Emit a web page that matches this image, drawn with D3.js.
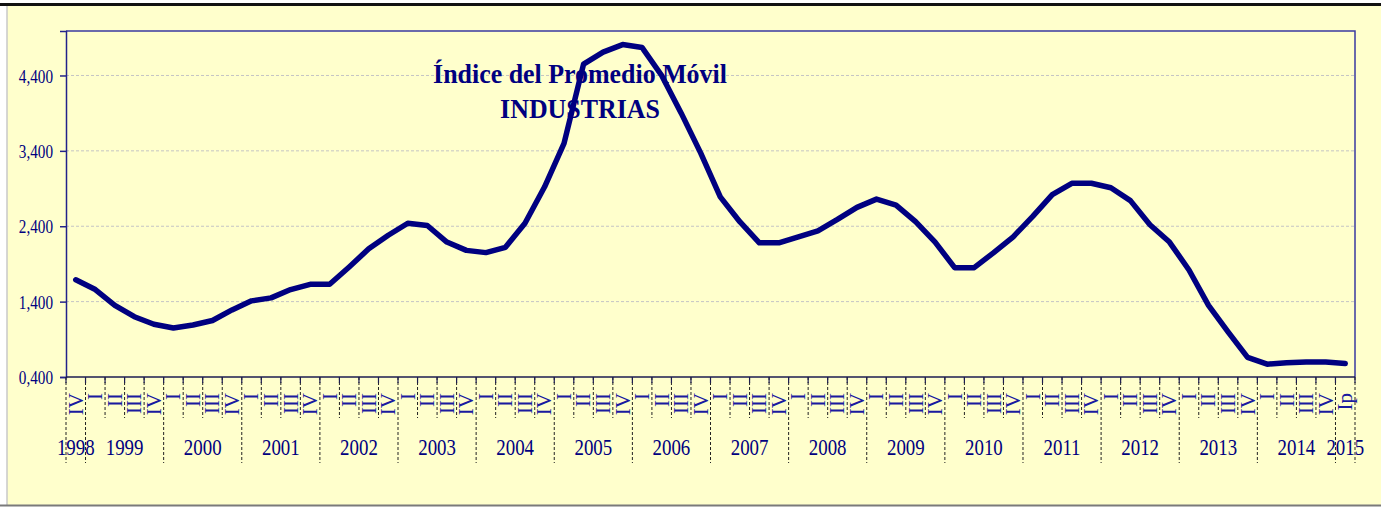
<!DOCTYPE html>
<html>
<head>
<meta charset="utf-8">
<script src="https://cdn.jsdelivr.net/npm/d3@7"></script>
<style>
  html, body { margin: 0; padding: 0; background: #ffffff; }
  svg { display: block; }
</style>
</head>
<body>
<div id="chart"></div>
<script>
(function() {
  'use strict'

  // Quarter labels, 1998 IV .. 2015 Ip.
  var quarterLabels = ['IV',
    'I','II','III','IV', 'I','II','III','IV', 'I','II','III','IV', 'I','II','III','IV',
    'I','II','III','IV', 'I','II','III','IV', 'I','II','III','IV', 'I','II','III','IV',
    'I','II','III','IV', 'I','II','III','IV', 'I','II','III','IV', 'I','II','III','IV',
    'I','II','III','IV', 'I','II','III','IV', 'I','II','III','IV', 'I','II','III','IV',
    'Ip'];

  var yearLabels = ['1998','1999','2000','2001','2002','2003','2004','2005','2006',
                    '2007','2008','2009','2010','2011','2012','2013','2014','2015'];
  var yearQuarters = [1,4,4,4,4,4,4,4,4,4,4,4,4,4,4,4,4,1];

  // Moving average index, INDUSTRIAS.
  var indexValues = [1.69,
    1.56,1.35,1.20,1.10, 1.05,1.09,1.15,1.29, 1.41,1.45,1.56,1.63, 1.63,1.86,2.10,2.28,
    2.44,2.41,2.19,2.08, 2.05,2.12,2.44,2.92, 3.50,4.55,4.71,4.81, 4.77,4.40,3.90,3.37,
    2.79,2.46,2.18,2.18, 2.26,2.34,2.49,2.65, 2.76,2.68,2.46,2.19, 1.85,1.85,2.05,2.26,
    2.53,2.82,2.97,2.97, 2.91,2.74,2.42,2.19, 1.82,1.35,1.00,0.66, 0.57,0.59,0.60,0.60,
    0.58];

  var yTicks = [0.4, 1.4, 2.4, 3.4, 4.4];
  var titleLines = ['Índice del Promedio Móvil', 'INDUSTRIAS'];

  var width = 1381, height = 508;
  var plot = { left: 66, right: 1355, top: 31, bottom: 377 };
  var navy = '#000080';
  var serif = '"Liberation Serif", "Times New Roman", serif';

  var svg = d3.select('#chart').append('svg')
    .attr('width', width).attr('height', height);

  // Frame of the picture.
  svg.append('rect').attr('x', 7).attr('y', 5).attr('width', width - 7).attr('height', 500)
    .attr('fill', '#ffffcc');
  svg.append('rect').attr('x', 0).attr('y', 3).attr('width', width).attr('height', 3)
    .attr('fill', '#111');
  svg.append('line').attr('x1', 7).attr('x2', 7).attr('y1', 6).attr('y2', 505)
    .attr('stroke', '#c8c8c8').attr('stroke-width', 1.5);
  svg.append('line').attr('x1', 0).attr('x2', width).attr('y1', 505.5).attr('y2', 505.5)
    .attr('stroke', '#7a7a7a').attr('stroke-width', 2);

  var x = d3.scaleBand()
    .domain(d3.range(quarterLabels.length))
    .range([plot.left, plot.right])
    .paddingInner(0).paddingOuter(0);

  var y = d3.scaleLinear()
    .domain([0.4, 4.99])
    .range([plot.bottom, plot.top]);

  // Gridlines.
  svg.append('g').selectAll('line')
    .data(yTicks.slice(1)).enter().append('line')
    .attr('x1', plot.left).attr('x2', plot.right)
    .attr('y1', function(d) { return y(d); })
    .attr('y2', function(d) { return y(d); })
    .attr('stroke', '#c4c4c4').attr('stroke-width', 1)
    .attr('stroke-dasharray', '3,2');

  // Plot border (top and right).
  svg.append('path')
    .attr('d', 'M' + plot.left + ',' + plot.top + 'H' + plot.right + 'V' + plot.bottom)
    .attr('fill', 'none').attr('stroke', '#3a3aa0').attr('stroke-width', 1.5);

  // Y axis.
  var yAxis = svg.append('g')
    .attr('transform', 'translate(' + plot.left + ',0)')
    .call(d3.axisLeft(y).tickValues(yTicks).tickSize(6).tickPadding(0)
      .tickFormat(function(d) { return d3.format('.3f')(d).replace('.', ','); }));
  yAxis.select('.domain').attr('stroke', '#22228a').attr('stroke-width', 1.5);
  yAxis.selectAll('.tick line').attr('stroke', '#22228a').attr('stroke-width', 1.5);
  yAxis.selectAll('.tick text').remove();
  yAxis.selectAll('.tick').append('text')
    .attr('transform', 'translate(-13,0) scale(0.8,1)')
    .attr('text-anchor', 'end').attr('dy', '0.35em')
    .attr('fill', navy).style('font-family', serif).style('font-size', '19px')
    .text(function(d) { return d3.format('.3f')(d).replace('.', ','); });

  // X axis line and quarter ticks.
  svg.append('line')
    .attr('x1', plot.left).attr('x2', plot.right)
    .attr('y1', plot.bottom).attr('y2', plot.bottom)
    .attr('stroke', '#1c1c50').attr('stroke-width', 1.5);

  // Category boundaries: year edges run longer.
  var yearEdges = [0];
  yearQuarters.forEach(function(n) { yearEdges.push(yearEdges[yearEdges.length - 1] + n); });
  var bounds = d3.range(quarterLabels.length + 1).map(function(i) {
    return { i: i, year: yearEdges.indexOf(i) >= 0 };
  });
  function boundX(i) { return plot.left + i * x.bandwidth(); }

  svg.append('g').selectAll('line')
    .data(bounds).enter().append('line')
    .attr('x1', function(d) { return boundX(d.i); })
    .attr('x2', function(d) { return boundX(d.i); })
    .attr('y1', plot.bottom)
    .attr('y2', function(d) { return d.year ? 463 : 418; })
    .attr('stroke', '#222').attr('stroke-width', 1)
    .attr('stroke-dasharray', '3,2');

  svg.append('g').selectAll('line')
    .data(bounds).enter().append('line')
    .attr('x1', function(d) { return boundX(d.i); })
    .attr('x2', function(d) { return boundX(d.i); })
    .attr('y1', plot.bottom).attr('y2', plot.bottom + 6)
    .attr('stroke', '#1c1c50').attr('stroke-width', 1.2);

  // Quarter labels, rotated.
  svg.append('g').selectAll('text')
    .data(quarterLabels).enter().append('text')
    .attr('transform', function(d, i) {
      return 'translate(' + (x(i) + x.bandwidth() / 2) + ',393) rotate(-90)';
    })
    .attr('text-anchor', 'end').attr('dy', '0.33em')
    .attr('fill', '#1a1aa0').style('font-family', serif).style('font-size', '21px')
    .text(function(d) { return d; });

  // Year labels centred on their quarters.
  svg.append('g').selectAll('text')
    .data(yearLabels).enter().append('text')
    .attr('transform', function(d, k) {
      var cx = (boundX(yearEdges[k]) + boundX(yearEdges[k + 1])) / 2;
      return 'translate(' + cx + ',455) scale(0.82,1)';
    })
    .attr('text-anchor', 'middle')
    .attr('fill', navy).style('font-family', serif).style('font-size', '23px')
    .text(function(d) { return d; });

  // The series.
  var line = d3.line()
    .x(function(d, i) { return x(i) + x.bandwidth() / 2; })
    .y(function(d) { return y(d); })
    .curve(d3.curveLinear);

  svg.append('path')
    .datum(indexValues)
    .attr('d', line)
    .attr('fill', 'none').attr('stroke', navy).attr('stroke-width', 5.5)
    .attr('stroke-linejoin', 'round').attr('stroke-linecap', 'round');

  // Title.
  svg.append('g').selectAll('text')
    .data(titleLines).enter().append('text')
    .attr('transform', function(d, i) {
      return 'translate(580,' + (83 + i * 35) + ') scale(0.96,1)';
    })
    .attr('text-anchor', 'middle')
    .attr('fill', navy).style('font-family', serif)
    .style('font-size', '27px').style('font-weight', 'bold')
    .text(function(d) { return d; });

})();
</script>
</body>
</html>
